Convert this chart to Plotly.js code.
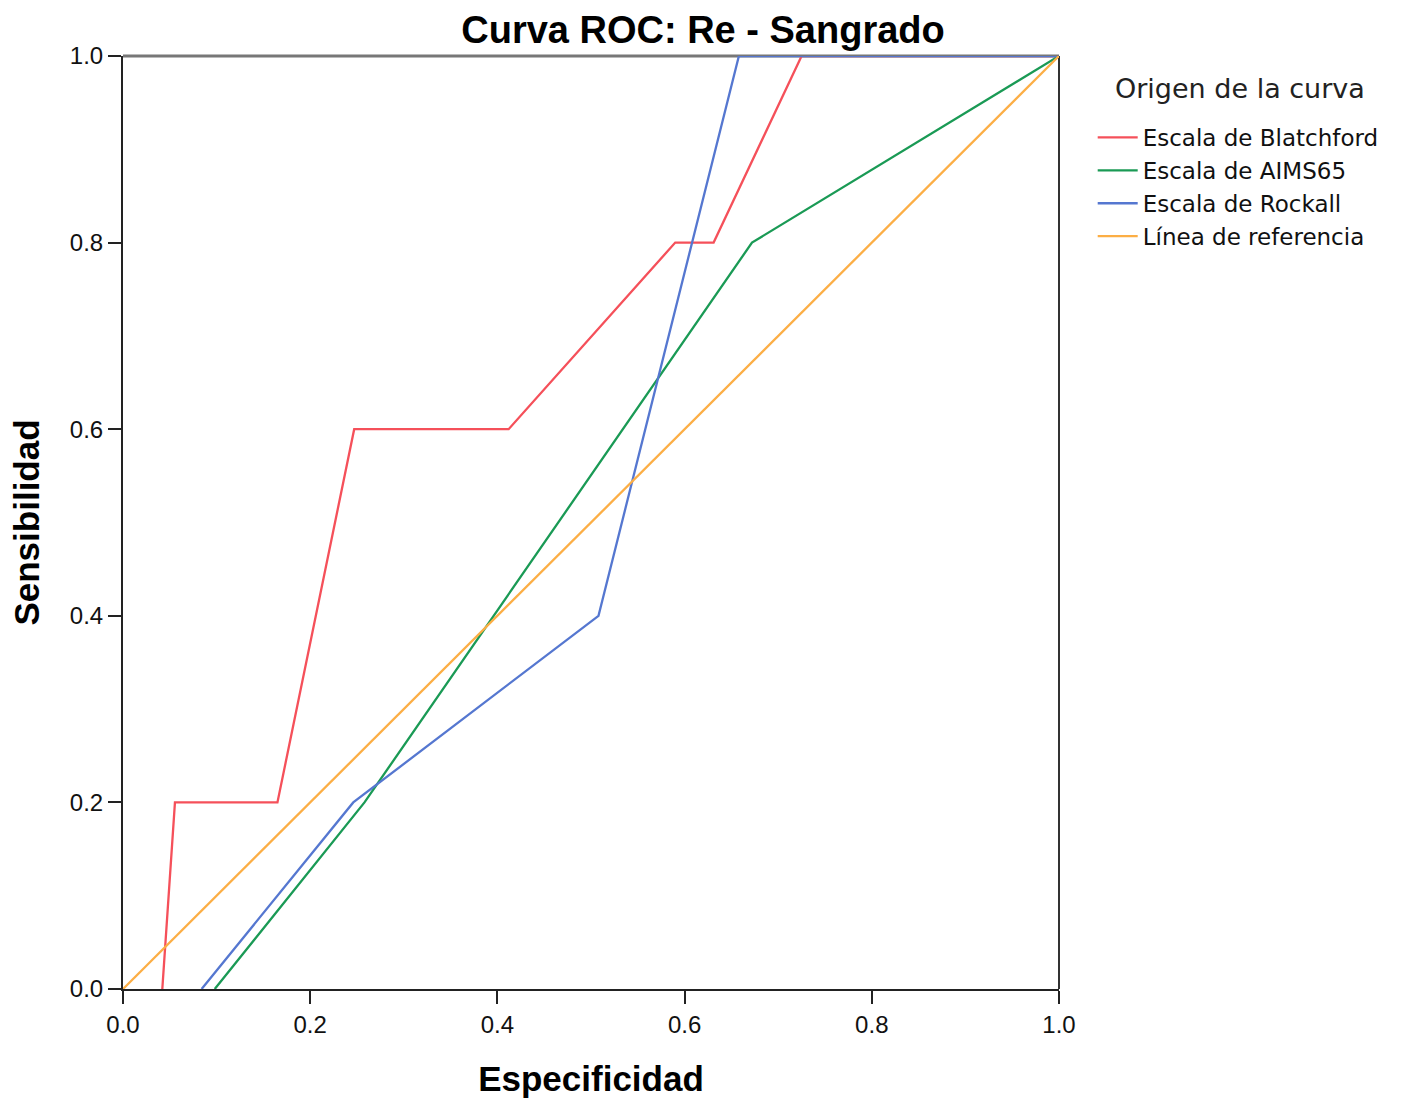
<!DOCTYPE html>
<html>
<head>
<meta charset="utf-8">
<script src="https://cdn.plot.ly/plotly-3.0.1.min.js"></script>
<style>html,body{margin:0;padding:0;background:#fff;}#chart{width:1406px;height:1099px;}</style>
</head>
<body>
<div id="chart"></div>
<script>
// Specificity-axis (x) and sensitivity (y) vertices
const blatchfordX = [0.042, 0.0555, 0.165, 0.247, 0.412, 0.590, 0.631, 0.725, 1.0];
const blatchfordY = [0.0, 0.2, 0.2, 0.6, 0.6, 0.8, 0.8, 1.0, 1.0];
const aims65X = [0.098, 0.258, 0.672, 1.0];
const aims65Y = [0.0, 0.2, 0.8, 1.0];
const rockallX = [0.084, 0.246, 0.508, 0.658, 1.0];
const rockallY = [0.0, 0.2, 0.4, 1.0, 1.0];
const refX = [0.0, 1.0];
const refY = [0.0, 1.0];
const seriesNames = ["Escala de Blatchford", "Escala de AIMS65", "Escala de Rockall", "Línea de referencia"];
const legendTitle = "Origen de la curva";
const tickVals = [0, 0.2, 0.4, 0.6, 0.8, 1.0];
const tickText = ["0.0", "0.2", "0.4", "0.6", "0.8", "1.0"];

const colors = ["#f5505a", "#1a9a55", "#5577d0", "#fcae45"];
const xs = [blatchfordX, aims65X, rockallX, refX];
const ys = [blatchfordY, aims65Y, rockallY, refY];

const traces = xs.map((x, i) => ({
  x: x, y: ys[i], type: "scatter", mode: "lines", name: seriesNames[i],
  line: {color: colors[i], width: 2.3}, cliponaxis: false
}));

const axisFont = {family: "Liberation Sans, Arial, sans-serif", size: 24, color: "#111"};
const titleFont = {family: "Liberation Sans, Arial, sans-serif", size: 35, color: "#000", weight: "bold"};

const layout = {
  width: 1406, height: 1099,
  margin: {l: 123, r: 347, t: 56, b: 110},
  paper_bgcolor: "#fff", plot_bgcolor: "#fff",
  title: {text: "Curva ROC: Re - Sangrado", x: 0.5, xref: "container", xanchor: "center",
          y: 1 - 30/1099, yref: "container", yanchor: "middle",
          font: {family: "Liberation Sans, Arial, sans-serif", size: 38, color: "#000", weight: "bold"}},
  xaxis: {range: [0, 1], tickvals: tickVals, ticktext: tickText, ticks: "outside", ticklen: 13, tickwidth: 2,
          tickcolor: "#222", showline: true, linecolor: "#222", linewidth: 2, showgrid: false, zeroline: false,
          tickfont: axisFont, automargin: false,
          title: {text: "Especificidad", font: titleFont, standoff: 30}},
  yaxis: {range: [0, 1], tickvals: tickVals, ticktext: tickText, ticks: "outside", ticklen: 13, tickwidth: 2,
          tickcolor: "#222", showline: true, linecolor: "#222", linewidth: 2, showgrid: false, zeroline: false,
          tickfont: axisFont, automargin: false,
          title: {text: "Sensibilidad", font: titleFont, standoff: 20}},
  shapes: [
    {type: "line", xref: "paper", yref: "paper", x0: 0, x1: 1, y0: 1, y1: 1, line: {color: "#777", width: 3}, layer: "below"},
    {type: "line", xref: "paper", yref: "paper", x0: 1, x1: 1, y0: 0, y1: 1, line: {color: "#333", width: 2}, layer: "below"}
  ],
  annotations: [
    {text: legendTitle, xref: "paper", yref: "paper", x: (1240 - 123) / 936, y: 1 - (88 - 56) / 933,
     xanchor: "center", yanchor: "middle", showarrow: false,
     font: {family: "DejaVu Sans, sans-serif", size: 27, color: "#222"}}
  ],
  showlegend: true,
  legend: {x: 1.036, xanchor: "left", y: 1 - (116 - 56) / 933, yanchor: "top", bgcolor: "rgba(0,0,0,0)",
           font: {family: "DejaVu Sans, sans-serif", size: 23, color: "#111"},
           tracegroupgap: 0, itemwidth: 40}
};

Plotly.newPlot("chart", traces, layout, {displayModeBar: false, staticPlot: true});
</script>
</body>
</html>
